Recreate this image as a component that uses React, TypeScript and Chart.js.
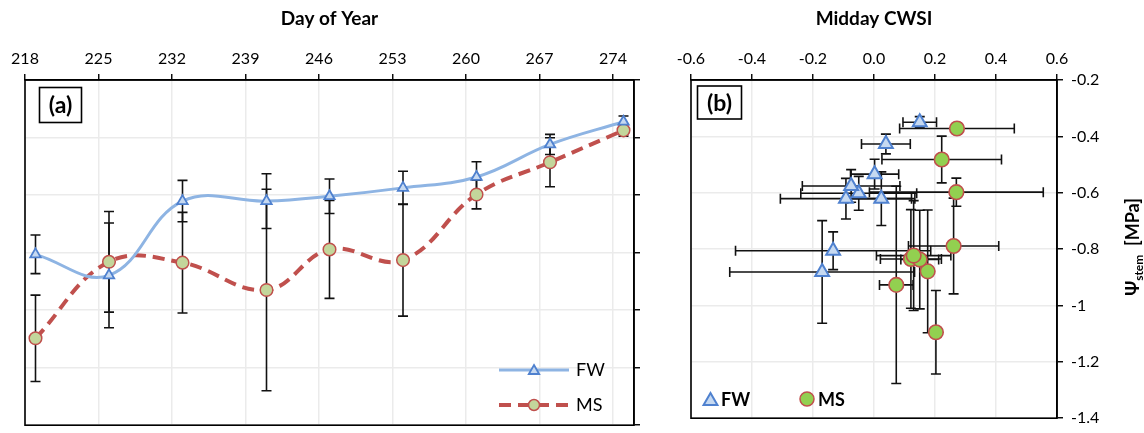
import { useEffect, useRef } from "react";
import { Chart, registerables } from "chart.js";

Chart.register(...registerables);

const FONT = "Lato, 'Noto Sans', 'DejaVu Sans', sans-serif";

// ---- tick labels ----
const dayTicks = [218, 225, 232, 239, 246, 253, 260, 267, 274];
const psiTicks = [-1.4, -1.2, -1.0, -0.8, -0.6, -0.4, -0.2];
const cwsiTicks = [-0.6, -0.4, -0.2, 0, 0.2, 0.4, 0.6];

// ---- panel (a): stem water potential by day of year ----
const days = [219, 226, 233, 241, 247, 254, 261, 268, 275];
const fwPsi = [-0.806, -0.879, -0.621, -0.621, -0.604, -0.575, -0.537, -0.424, -0.345];
const fwPsiErr = [0.067, 0.182, 0.072, 0.095, 0.06, 0.058, 0.053, 0.035, 0.02];
const msPsi = [-1.098, -0.832, -0.835, -0.93, -0.789, -0.826, -0.598, -0.486, -0.375];
const msPsiErr = [0.15, 0.175, 0.175, 0.35, 0.17, 0.195, 0.05, 0.085, 0.02];

// ---- panel (b): midday CWSI vs stem water potential ----
const fwCwsi = [-0.134, -0.17, -0.092, 0.024, -0.05, -0.075, 0.002, 0.039, 0.15];
const fwCwsiErr = [0.32, 0.303, 0.215, 0.11, 0.19, 0.16, 0.079, 0.08, 0.055];
const fwPsiB = [-0.806, -0.881, -0.621, -0.621, -0.602, -0.576, -0.534, -0.427, -0.35];
const fwPsiErrB = [0.067, 0.182, 0.072, 0.095, 0.06, 0.058, 0.053, 0.035, 0.02];
const msCwsi = [0.203, 0.176, 0.121, 0.15, 0.073, 0.261, 0.13, 0.27, 0.222, 0.272];
const msCwsiErr = [0.015, 0.015, 0.1, 0.062, 0.055, 0.148, 0.122, 0.285, 0.196, 0.188];
const msPsiB = [-1.095, -0.879, -0.835, -0.837, -0.927, -0.789, -0.823, -0.598, -0.482, -0.372];
const msPsiErrB = [0.148, 0.218, 0.175, 0.175, 0.35, 0.17, 0.195, 0.05, 0.083, 0.02];

const FW_LINE = "#8EB4E3";
const FW_EDGE = "#4F81CF";
const FW_FILL = "#C6D9F1";
const MS_LINE = "#C0504D";
const MS_FILL_A = "#C3D69B";
const MS_FILL_B = "#92D050";
const GRID = "#ebebeb";

function tri(ctx: CanvasRenderingContext2D, x: number, y: number, r: number, fill: string, edge: string, lw: number) {
  ctx.beginPath();
  let rad = 0;
  ctx.moveTo(x + Math.sin(rad) * r, y - Math.cos(rad) * r);
  rad += (2 * Math.PI) / 3;
  ctx.lineTo(x + Math.sin(rad) * r, y - Math.cos(rad) * r);
  rad += (2 * Math.PI) / 3;
  ctx.lineTo(x + Math.sin(rad) * r, y - Math.cos(rad) * r);
  ctx.closePath();
  ctx.fillStyle = fill;
  ctx.fill();
  ctx.strokeStyle = edge;
  ctx.lineWidth = lw;
  ctx.stroke();
}

function circ(ctx: CanvasRenderingContext2D, x: number, y: number, r: number, fill: string, edge: string, lw: number) {
  ctx.beginPath();
  ctx.arc(x, y, r, 0, Math.PI * 2);
  ctx.fillStyle = fill;
  ctx.fill();
  ctx.strokeStyle = edge;
  ctx.lineWidth = lw;
  ctx.stroke();
}

const errorBars = {
  id: "errorBars",
  beforeDatasetsDraw(chart: any) {
    const ctx = chart.ctx as CanvasRenderingContext2D;
    const xs = chart.scales.x;
    const ys = chart.scales.y;
    const { left, top, right, bottom } = chart.chartArea;
    const cap = 5;
    ctx.save();
    ctx.beginPath();
    ctx.rect(left, top, right - left, bottom - top);
    ctx.clip();
    ctx.strokeStyle = "#111";
    ctx.lineWidth = 1.6;
    chart.data.datasets.forEach((ds: any) => {
      ds.data.forEach((p: any, i: number) => {
        const px = xs.getPixelForValue(p.x);
        const py = ys.getPixelForValue(p.y);
        if (ds.errY) {
          const e = ds.errY[i];
          const y1 = ys.getPixelForValue(p.y + e);
          const y2 = ys.getPixelForValue(p.y - e);
          ctx.beginPath();
          ctx.moveTo(px, y1);
          ctx.lineTo(px, y2);
          ctx.moveTo(px - cap, y1);
          ctx.lineTo(px + cap, y1);
          ctx.moveTo(px - cap, y2);
          ctx.lineTo(px + cap, y2);
          ctx.stroke();
        }
        if (ds.errX) {
          const e = ds.errX[i];
          const x1 = xs.getPixelForValue(p.x - e);
          const x2 = xs.getPixelForValue(p.x + e);
          ctx.beginPath();
          ctx.moveTo(x1, py);
          ctx.lineTo(x2, py);
          ctx.moveTo(x1, py - cap);
          ctx.lineTo(x1, py + cap);
          ctx.moveTo(x2, py - cap);
          ctx.lineTo(x2, py + cap);
          ctx.stroke();
        }
      });
    });
    ctx.restore();
  },
};

function frame(chart: any) {
  const ctx = chart.ctx as CanvasRenderingContext2D;
  const { left, top, right, bottom } = chart.chartArea;
  ctx.strokeStyle = "#000";
  ctx.lineWidth = 1.6;
  ctx.strokeRect(left, top, right - left, bottom - top);
}

function labelBox(ctx: CanvasRenderingContext2D, x: number, y: number, w: number, h: number, text: string) {
  ctx.strokeStyle = "#000";
  ctx.lineWidth = 1.6;
  ctx.strokeRect(x, y, w, h);
  ctx.fillStyle = "#000";
  ctx.font = `bold 23px ${FONT}`;
  ctx.textAlign = "center";
  ctx.textBaseline = "middle";
  ctx.fillText(text, x + w / 2, y + h / 2 + 1);
}

const decorA = {
  id: "decorA",
  afterDraw(chart: any) {
    const ctx = chart.ctx as CanvasRenderingContext2D;
    ctx.save();
    frame(chart);
    labelBox(ctx, 39.5, 87.5, 42, 35, "(a)");
    // legend FW
    ctx.strokeStyle = FW_LINE;
    ctx.lineWidth = 3;
    ctx.setLineDash([]);
    ctx.beginPath();
    ctx.moveTo(499, 370);
    ctx.lineTo(569, 370);
    ctx.stroke();
    tri(ctx, 534, 371, 6, FW_FILL, FW_EDGE, 1.8);
    // legend MS
    ctx.strokeStyle = MS_LINE;
    ctx.lineWidth = 4;
    ctx.setLineDash([12, 7]);
    ctx.beginPath();
    ctx.moveTo(499, 405);
    ctx.lineTo(569, 405);
    ctx.stroke();
    ctx.setLineDash([]);
    circ(ctx, 534, 405, 5.5, MS_FILL_A, MS_LINE, 1.5);
    ctx.fillStyle = "#000";
    ctx.font = `18px ${FONT}`;
    ctx.textAlign = "left";
    ctx.textBaseline = "middle";
    ctx.fillText("FW", 576, 370);
    ctx.fillText("MS", 576, 405);
    ctx.restore();
  },
};

const decorB = {
  id: "decorB",
  afterDraw(chart: any) {
    const ctx = chart.ctx as CanvasRenderingContext2D;
    ctx.save();
    frame(chart);
    labelBox(ctx, 37.5, 86, 44, 33, "(b)");
    // legend
    tri(ctx, 50.5, 401, 8, FW_FILL, FW_EDGE, 2);
    circ(ctx, 147, 399, 7, MS_FILL_B, MS_LINE, 1.5);
    ctx.fillStyle = "#000";
    ctx.font = `bold 18px ${FONT}`;
    ctx.textAlign = "left";
    ctx.textBaseline = "middle";
    ctx.fillText("FW", 61, 400);
    ctx.fillText("MS", 158, 400);
    // right axis title: Ψstem [MPa]
    const main = `bold 18px ${FONT}`;
    const sub = `bold 12px ${FONT}`;
    ctx.font = main;
    const w1 = ctx.measureText("Ψ").width;
    const w3 = ctx.measureText("  [MPa]").width;
    ctx.font = sub;
    const w2 = ctx.measureText("stem").width;
    const total = w1 + w2 + w3;
    ctx.translate(479, 247);
    ctx.rotate(-Math.PI / 2);
    ctx.textBaseline = "alphabetic";
    let x = -total / 2;
    ctx.font = main;
    ctx.fillText("Ψ", x, 0);
    x += w1;
    ctx.font = sub;
    ctx.fillText("stem", x, 4);
    x += w2;
    ctx.font = main;
    ctx.fillText("  [MPa]", x, 0);
    ctx.restore();
  },
};

function gridOpts() {
  return {
    color: GRID,
    lineWidth: 1.5,
    tickLength: 6,
    tickColor: "#000",
    tickWidth: 1.4,
    drawTicks: true,
  };
}

export default function App() {
  const refA = useRef<HTMLCanvasElement>(null);
  const refB = useRef<HTMLCanvasElement>(null);

  useEffect(() => {
    Chart.defaults.font.family = FONT;
    Chart.defaults.color = "#000";

    const chartA = new Chart(refA.current as HTMLCanvasElement, {
      type: "line",
      data: {
        datasets: [
          {
            label: "FW",
            data: days.map((d, i) => ({ x: d, y: fwPsi[i] })),
            errY: fwPsiErr,
            borderColor: FW_LINE,
            borderWidth: 3,
            tension: 0.4,
            pointStyle: "triangle",
            pointRadius: 6,
            pointBackgroundColor: FW_FILL,
            pointBorderColor: FW_EDGE,
            pointBorderWidth: 1.8,
          } as any,
          {
            label: "MS",
            data: days.map((d, i) => ({ x: d, y: msPsi[i] })),
            errY: msPsiErr,
            borderColor: MS_LINE,
            borderWidth: 4,
            borderDash: [12, 7],
            tension: 0.4,
            pointStyle: "circle",
            pointRadius: 6.3,
            pointBackgroundColor: MS_FILL_A,
            pointBorderColor: MS_LINE,
            pointBorderWidth: 1.5,
          } as any,
        ],
      },
      options: {
        animation: false,
        responsive: false,
        devicePixelRatio: 1,
        layout: { padding: { left: 25, right: 0, top: 0, bottom: 7 } },
        plugins: { legend: { display: false }, tooltip: { enabled: false } },
        scales: {
          x: {
            type: "linear",
            position: "top",
            min: 218,
            max: 276,
            afterBuildTicks: (s: any) => {
              s.ticks = dayTicks.map((v) => ({ value: v }));
            },
            afterFit: (s: any) => {
              s.height = 80;
            },
            ticks: {
              autoSkip: false,
              maxRotation: 0,
              padding: 6,
              color: "#000",
              font: { family: FONT, size: 16 },
              callback: (v: any) => String(v),
            },
            grid: gridOpts(),
            border: { color: "#000", width: 1.6 },
            title: {
              display: true,
              text: "Day of Year",
              color: "#000",
              font: { family: FONT, size: 19, weight: "bold" },
              padding: { top: 7, bottom: 0 },
            },
          },
          y: {
            type: "linear",
            position: "right",
            min: -1.4,
            max: -0.2,
            afterBuildTicks: (s: any) => {
              s.ticks = psiTicks.map((v) => ({ value: v }));
            },
            afterFit: (s: any) => {
              s.width = 26;
            },
            ticks: { display: false },
            grid: gridOpts(),
            border: { color: "#000", width: 1.6 },
          },
        },
      } as any,
      plugins: [errorBars, decorA],
    });

    const chartB = new Chart(refB.current as HTMLCanvasElement, {
      type: "scatter",
      data: {
        datasets: [
          {
            label: "FW",
            data: fwCwsi.map((c, i) => ({ x: c, y: fwPsiB[i] })),
            errX: fwCwsiErr,
            errY: fwPsiErrB,
            pointStyle: "triangle",
            pointRadius: 8,
            pointBackgroundColor: FW_FILL,
            pointBorderColor: FW_EDGE,
            pointBorderWidth: 2,
          } as any,
          {
            label: "MS",
            data: msCwsi.map((c, i) => ({ x: c, y: msPsiB[i] })),
            errX: msCwsiErr,
            errY: msPsiErrB,
            pointStyle: "circle",
            pointRadius: 7.3,
            pointBackgroundColor: MS_FILL_B,
            pointBorderColor: MS_LINE,
            pointBorderWidth: 1.6,
          } as any,
        ],
      },
      options: {
        animation: false,
        responsive: false,
        devicePixelRatio: 1,
        layout: { padding: { left: 31, right: 0, top: 0, bottom: 7 } },
        plugins: { legend: { display: false }, tooltip: { enabled: false } },
        scales: {
          x: {
            type: "linear",
            position: "top",
            min: -0.6,
            max: 0.6,
            afterBuildTicks: (s: any) => {
              s.ticks = cwsiTicks.map((v) => ({ value: v }));
            },
            afterFit: (s: any) => {
              s.height = 80;
            },
            ticks: {
              autoSkip: false,
              maxRotation: 0,
              padding: 6,
              color: "#000",
              font: { family: FONT, size: 16 },
              callback: (v: any) => Number(v).toFixed(1),
            },
            grid: gridOpts(),
            border: { color: "#000", width: 1.6 },
            title: {
              display: true,
              text: "Midday CWSI",
              color: "#000",
              font: { family: FONT, size: 19, weight: "bold" },
              padding: { top: 7, bottom: 0 },
            },
          },
          y: {
            type: "linear",
            position: "right",
            min: -1.4,
            max: -0.2,
            afterBuildTicks: (s: any) => {
              s.ticks = psiTicks.map((v) => ({ value: v }));
            },
            afterFit: (s: any) => {
              s.width = 87;
            },
            ticks: {
              padding: 8,
              color: "#000",
              font: { family: FONT, size: 16, lineHeight: 0.85 },
              callback: (v: any) => String(Number(Number(v).toFixed(1))),
            },
            grid: gridOpts(),
            border: { color: "#000", width: 1.6 },
          },
        },
      } as any,
      plugins: [errorBars, decorB],
    });

    return () => {
      chartA.destroy();
      chartB.destroy();
    };
  }, []);

  return (
    <div style={{ position: "fixed", left: 0, top: 0, width: 1144, height: 433, background: "#fff" }}>
      <canvas
        ref={refA}
        width={660}
        height={433}
        style={{ position: "absolute", left: 0, top: 0, width: 660, height: 433, display: "block" }}
      />
      <canvas
        ref={refB}
        width={484}
        height={433}
        style={{ position: "absolute", left: 660, top: 0, width: 484, height: 433, display: "block" }}
      />
    </div>
  );
}
